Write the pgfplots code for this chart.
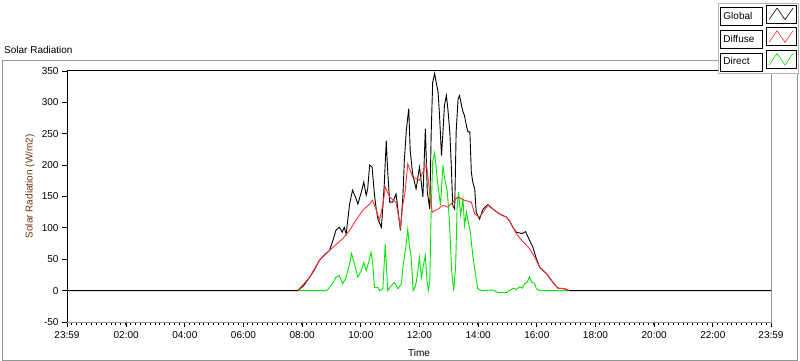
\documentclass[border=0pt]{standalone}
\usepackage{fontspec}
\setmainfont{Liberation Sans}
\usepackage{pgfplots}
\pgfplotsset{compat=1.18}
\definecolor{lvred}{RGB}{255,50,50}
\definecolor{lvgreen}{RGB}{0,230,0}
\definecolor{ylab}{RGB}{110,50,10}
\definecolor{frame}{RGB}{150,150,150}
\begin{document}
\begin{tikzpicture}[font=\fontsize{10bp}{12bp}\selectfont]
\useasboundingbox (0,0) rectangle (800bp,361bp);
\fill[white] (0,0) rectangle (800bp,361bp);
\draw[frame, line width=1bp] (2.5bp,1bp) rectangle (797bp,300bp);
\node[anchor=west, inner sep=0pt] at (4bp,311bp) {Solar Radiation};
\begin{axis}[
  at={(67bp,39bp)}, anchor=south west,
  scale only axis, width=704bp, height=251bp,
  xmin=-1, xmax=1439, ymin=-50, ymax=350,
  xtick={-1,120,240,360,480,600,720,840,960,1080,1200,1320,1439},
  xticklabels={23:59,02:00,04:00,06:00,08:00,10:00,12:00,14:00,16:00,18:00,20:00,22:00,23:59},
  minor xtick={9,19,...,1430},
  ytick={-50,0,50,100,150,200,250,300,350},
  /pgf/number format/assume math mode=true,
  tick label style={font=\fontsize{10bp}{12bp}\selectfont},
  tick align=outside, xtick pos=bottom, ytick pos=left,
  major tick length=5bp, minor tick length=3bp,
  every tick/.style={black, line width=0.8bp},
  axis line style={draw=none},
  xticklabel style={yshift=-1bp},
  xlabel={Time},
  xlabel style={at={(axis description cs:0.5,0)}, anchor=center, yshift=-31bp},
  ylabel={Solar Radiation (W/m2)},
  ylabel style={at={(axis description cs:-0.0526,0.54)}, anchor=center, text=ylab},
  legend plot pos=right,
  legend cell align=left,
  legend style={at={(1.0384,1.2709)}, anchor=north east, draw=frame!70, fill=white,
    inner sep=1.5bp, row sep=1.5bp, column sep=3bp,
    nodes={draw=black, line width=0.6bp, inner sep=0bp, minimum height=18bp},
    font=\fontsize{10bp}{12bp}\selectfont},
  legend image code/.code={%
    \draw[black, line width=0.6bp] (0bp,-6.4bp) rectangle (30bp,11.6bp);
    \draw[#1, line width=0.6bp] (3bp,-3bp) -- (11bp,8.5bp) -- (19bp,-3bp) -- (27bp,8.5bp);},
  clip=false,
]
\draw[black, line width=1bp] (rel axis cs:0,0) -- (rel axis cs:0,1) -- (rel axis cs:1,1);
\draw[frame, line width=1bp] (rel axis cs:1,1) -- (rel axis cs:1,0) -- (rel axis cs:0,0);
\addlegendimage{black}
\addlegendentry{\makebox[42bp][l]{\hspace{3bp}Global}}
\addlegendimage{lvred}
\addlegendentry{\makebox[42bp][l]{\hspace{3bp}Diffuse}}
\addlegendimage{lvgreen}
\addlegendentry{\makebox[42bp][l]{\hspace{3bp}Direct}}
% Direct
\addplot[lvgreen, line width=0.9bp, forget plot] coordinates {
(471,0)(530,0)(536,5)(542,11)(549,21)(556,24)(563,11)(570,21)(577,43)(581,59)(587,43)(594,21)(601,32)(606,45)(611,32)(616,45)(621,61)(624,45)(628,5)(635,5)(638,0)(645,3)(650,74)(655,0)(662,8)(669,13)(676,3)(683,11)(686,37)(692,69)(696,98)(699,74)(703,53)(707,0)(712,8)(716,27)(720,53)(724,21)(728,40)(732,56)(735,19)(738,0)(741,13)(744,130)(747,205)(751,220)(757,173)(763,136)(768,200)(771,181)(777,157)(781,114)(786,29)(790,0)(794,40)(797,136)(800,157)(804,120)(809,146)(812,104)(816,125)(820,109)(824,93)(829,56)(834,29)(839,3)(848,0)(870,1)(880,-3)(898,-3)(912,4)(918,2)(925,6)(931,4)(935,11)(940,13)(945,22)(950,13)(955,12)(959,3)(966,0)(1026,0)
};
% Global
\addplot[black, line width=0.9bp, forget plot] coordinates {
(-1,0)(471,0)(483,8)(495,21)(505,33)(515,48)(526,57)(536,64)(543,80)(549,96)(556,101)(562,93)(566,101)(570,90)(577,138)(583,160)(589,149)(594,138)(601,157)(606,173)(611,152)(614,162)(618,200)(623,197)(628,152)(631,133)(635,114)(642,101)(645,133)(648,170)(652,239)(655,190)(659,141)(665,141)(672,154)(676,128)(681,96)(686,149)(689,207)(693,255)(698,290)(701,223)(706,186)(713,162)(720,197)(727,149)(732,258)(736,157)(741,130)(744,253)(747,332)(751,346)(754,332)(758,317)(761,279)(765,215)(768,253)(771,295)(775,311)(778,290)(782,253)(785,200)(788,136)(792,130)(795,253)(799,306)(802,311)(806,295)(809,285)(812,279)(816,263)(819,253)(823,253)(826,189)(829,173)(833,162)(836,125)(843,114)(850,130)(860,137)(870,130)(884,122)(898,117)(905,110)(911,101)(918,93)(930,91)(937,94)(944,82)(952,69)(959,51)(966,37)(980,27)(993,13)(1003,4)(1017,3)(1026,0)(1439,0)
};
% Diffuse
\addplot[lvred, line width=0.9bp, forget plot] coordinates {
(471,0)(495,21)(515,48)(536,64)(563,83)(577,96)(590,112)(604,128)(618,138)(624,144)(631,130)(638,112)(645,136)(650,165)(659,149)(672,141)(681,101)(686,138)(690,154)(696,202)(706,181)(720,176)(734,202)(741,157)(746,125)(758,130)(768,136)(778,133)(788,141)(798,149)(812,144)(826,141)(833,122)(843,117)(860,136)(870,130)(884,122)(898,117)(905,110)(911,101)(918,91)(928,81)(945,67)(956,53)(966,37)(980,27)(993,13)(1003,4)(1017,3)(1026,0)
};
\end{axis}
\end{tikzpicture}
\end{document}
